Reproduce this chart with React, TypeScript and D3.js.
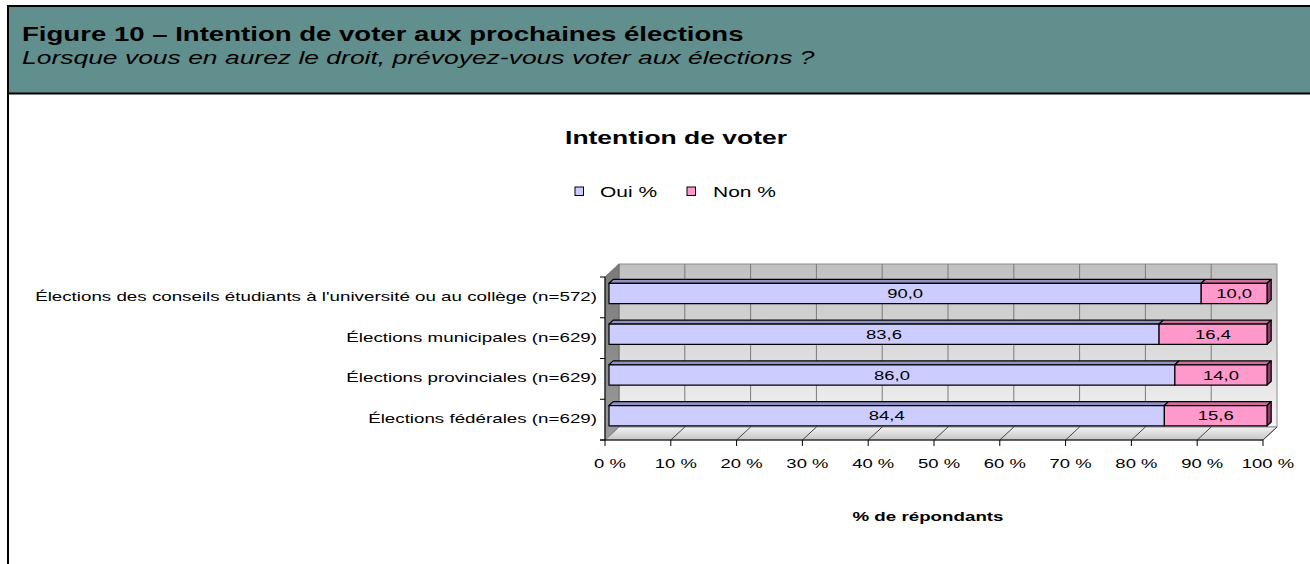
import React from "react";
import * as d3 from "d3";

const categories = [
  "Élections des conseils étudiants à l'université ou au collège (n=572)",
  "Élections municipales (n=629)",
  "Élections provinciales (n=629)",
  "Élections fédérales (n=629)",
];
const ouiValues = [90.0, 83.6, 86.0, 84.4];
const nonValues = [10.0, 16.4, 14.0, 15.6];
const seriesNames = ["Oui %", "Non %"];
const xTicks = [0, 10, 20, 30, 40, 50, 60, 70, 80, 90, 100];

const W = 1310;
const H = 564;
const SX = 1.4;
const FONT = "'Liberation Sans', Arial, Helvetica, sans-serif";

const OUI = { front: "#ccccff", top: "#9191c4", side: "#6b6b99" };
const NON = { front: "#ff99cc", top: "#cc6f9e", side: "#8f3d66" };

const fmt = (v: number) => v.toFixed(1).replace(".", ",");

function T(props: {
  x: number;
  y: number;
  size: number;
  anchor?: string;
  weight?: string;
  italic?: boolean;
  children: React.ReactNode;
}) {
  const { x, y, size, anchor = "start", weight = "normal", italic = false, children } = props;
  return (
    <text
      transform={`translate(${x},${y}) scale(${SX},1)`}
      fontFamily={FONT}
      fontSize={size}
      fontWeight={weight}
      fontStyle={italic ? "italic" : "normal"}
      textAnchor={anchor}
      fill="#000"
    >
      {children}
    </text>
  );
}

export default function App() {
  const plotTop = 277;
  const plotBottom = 440;
  const DX = 14;
  const DY = -13;
  const f1 = { x: 4, y: -3.9 };
  const f2 = { x: 8.2, y: -7.8 };

  const xs = d3.scaleLinear().domain([0, 100]).range([605, 1263]);
  const ys = d3
    .scaleBand<string>()
    .domain(categories)
    .range([plotTop, plotBottom])
    .paddingInner(0.5)
    .paddingOuter(0.25);
  const step = ys.step();
  const bw = ys.bandwidth();

  const x0 = xs(0);
  const x1 = xs(100);

  const poly = (pts: [number, number][]) => pts.map((p) => p.join(",")).join(" ");

  const bars: React.ReactNode[] = [];
  categories.forEach((c, i) => {
    const yt = ys(c) as number;
    const yb = yt + bw;
    const segs = [
      { a: 0, b: ouiValues[i], col: OUI, label: fmt(ouiValues[i]) },
      { a: ouiValues[i], b: ouiValues[i] + nonValues[i], col: NON, label: fmt(nonValues[i]) },
    ];
    segs.forEach((s, j) => {
      const xa = xs(s.a);
      const xb = xs(s.b);
      bars.push(
        <g key={`b${i}-${j}`} stroke="#000" strokeWidth={1.2} strokeLinejoin="round">
          <polygon
            points={poly([
              [xa + f1.x, yt + f1.y],
              [xb + f1.x, yt + f1.y],
              [xb + f2.x, yt + f2.y],
              [xa + f2.x, yt + f2.y],
            ])}
            fill={s.col.top}
          />
          {j === segs.length - 1 && (
            <polygon
              points={poly([
                [xb + f1.x, yt + f1.y],
                [xb + f2.x, yt + f2.y],
                [xb + f2.x, yb + f2.y],
                [xb + f1.x, yb + f1.y],
              ])}
              fill={s.col.side}
            />
          )}
          <rect x={xa + f1.x} y={yt + f1.y} width={xb - xa} height={bw} fill={s.col.front} />
        </g>
      );
      bars.push(
        <T
          key={`l${i}-${j}`}
          x={(xa + xb) / 2 + f1.x}
          y={yt + f1.y + bw / 2 + 4.7}
          size={13.2}
          anchor="middle"
        >
          {s.label}
        </T>
      );
    });
  });

  const boundaries = d3.range(categories.length + 1).map((i) => plotTop + i * step);

  return (
    <svg
      width={W}
      height={H}
      viewBox={`0 0 ${W} ${H}`}
      style={{ position: "absolute", left: 0, top: 0, background: "#fff" }}
    >
      <defs>
        <linearGradient id="backWall" x1="0" y1="0" x2="0" y2="1">
          <stop offset="0" stopColor="#c0c0c0" />
          <stop offset="1" stopColor="#f4f4f4" />
        </linearGradient>
        <linearGradient id="leftWall" x1="0" y1="0" x2="0" y2="1">
          <stop offset="0" stopColor="#7a7a7a" />
          <stop offset="1" stopColor="#9c9c9c" />
        </linearGradient>
        <linearGradient id="floor" x1="0" y1="0" x2="0" y2="1">
          <stop offset="0" stopColor="#f2f2f2" />
          <stop offset="1" stopColor="#c6c6c6" />
        </linearGradient>
      </defs>

      {/* Header */}
      <rect x={8} y={6} width={W - 8} height={87.5} fill="#618f8e" />
      <line x1={7} x2={W} y1={6} y2={6} stroke="#000" strokeWidth={2} />
      <line x1={7} x2={W} y1={93.5} y2={93.5} stroke="#000" strokeWidth={2} />
      <line x1={8} x2={8} y1={5} y2={H} stroke="#000" strokeWidth={2} />
      <T x={22} y={41} size={19.7} weight="bold">
        Figure 10 – Intention de voter aux prochaines élections
      </T>
      <T x={22} y={64} size={18.9} italic>
        Lorsque vous en aurez le droit, prévoyez-vous voter aux élections ?
      </T>

      {/* Chart title */}
      <T x={676} y={144} size={18.9} weight="bold" anchor="middle">
        Intention de voter
      </T>

      {/* Legend */}
      <rect x={575} y={187} width={8.5} height={8.5} fill={OUI.front} stroke="#000" strokeWidth={1} />
      <T x={600} y={197} size={15}>
        {seriesNames[0]}
      </T>
      <rect x={687} y={187} width={8.5} height={8.5} fill={NON.front} stroke="#000" strokeWidth={1} />
      <T x={713} y={197} size={15}>
        {seriesNames[1]}
      </T>

      {/* Walls */}
      <rect
        x={x0 + DX}
        y={plotTop + DY}
        width={x1 - x0}
        height={plotBottom - plotTop}
        fill="url(#backWall)"
        stroke="#8c8c8c"
        strokeWidth={1}
      />
      <polygon
        points={poly([
          [x0, plotTop],
          [x0 + DX, plotTop + DY],
          [x0 + DX, plotBottom + DY],
          [x0, plotBottom],
        ])}
        fill="url(#leftWall)"
        stroke="#6a6a6a"
        strokeWidth={1}
      />
      <polygon
        points={poly([
          [x0, plotBottom],
          [x1, plotBottom],
          [x1 + DX, plotBottom + DY],
          [x0 + DX, plotBottom + DY],
        ])}
        fill="url(#floor)"
        stroke="#8c8c8c"
        strokeWidth={1}
      />
      {xTicks.slice(1, -1).map((t) => (
        <line
          key={`g${t}`}
          x1={xs(t) + DX}
          x2={xs(t) + DX}
          y1={plotTop + DY}
          y2={plotBottom + DY}
          stroke="#7a7a7a"
          strokeWidth={1}
        />
      ))}
      {xTicks.map((t) => (
        <line
          key={`f${t}`}
          x1={xs(t)}
          y1={plotBottom}
          x2={xs(t) + DX}
          y2={plotBottom + DY}
          stroke={t === 0 ? "#8c8c8c" : "#333"}
          strokeWidth={0.9}
        />
      ))}

      {/* Bars */}
      {bars}

      {/* Axes */}
      <line x1={x0} x2={x0} y1={plotTop} y2={plotBottom} stroke="#000" strokeWidth={1} />
      {boundaries.map((b, i) => (
        <line key={`ct${i}`} x1={x0 - 5} x2={x0} y1={b} y2={b} stroke="#000" strokeWidth={1} />
      ))}
      <line x1={x0 - 5} x2={x1} y1={plotBottom} y2={plotBottom} stroke="#000" strokeWidth={1} />
      {xTicks.map((t) => (
        <line key={`xt${t}`} x1={xs(t)} x2={xs(t)} y1={plotBottom} y2={plotBottom + 6} stroke="#000" strokeWidth={1} />
      ))}

      {/* Category labels */}
      {categories.map((c) => (
        <T key={c} x={597} y={(ys(c) as number) + bw / 2 + 3.6} size={13.4} anchor="end">
          {c}
        </T>
      ))}

      {/* Tick labels */}
      {xTicks.map((t) => (
        <T key={`tl${t}`} x={xs(t) + 5} y={468} size={13.2} anchor="middle">
          {`${t} %`}
        </T>
      ))}

      {/* Axis title */}
      <T x={928} y={521} size={13.4} weight="bold" anchor="middle">
        % de répondants
      </T>
    </svg>
  );
}
